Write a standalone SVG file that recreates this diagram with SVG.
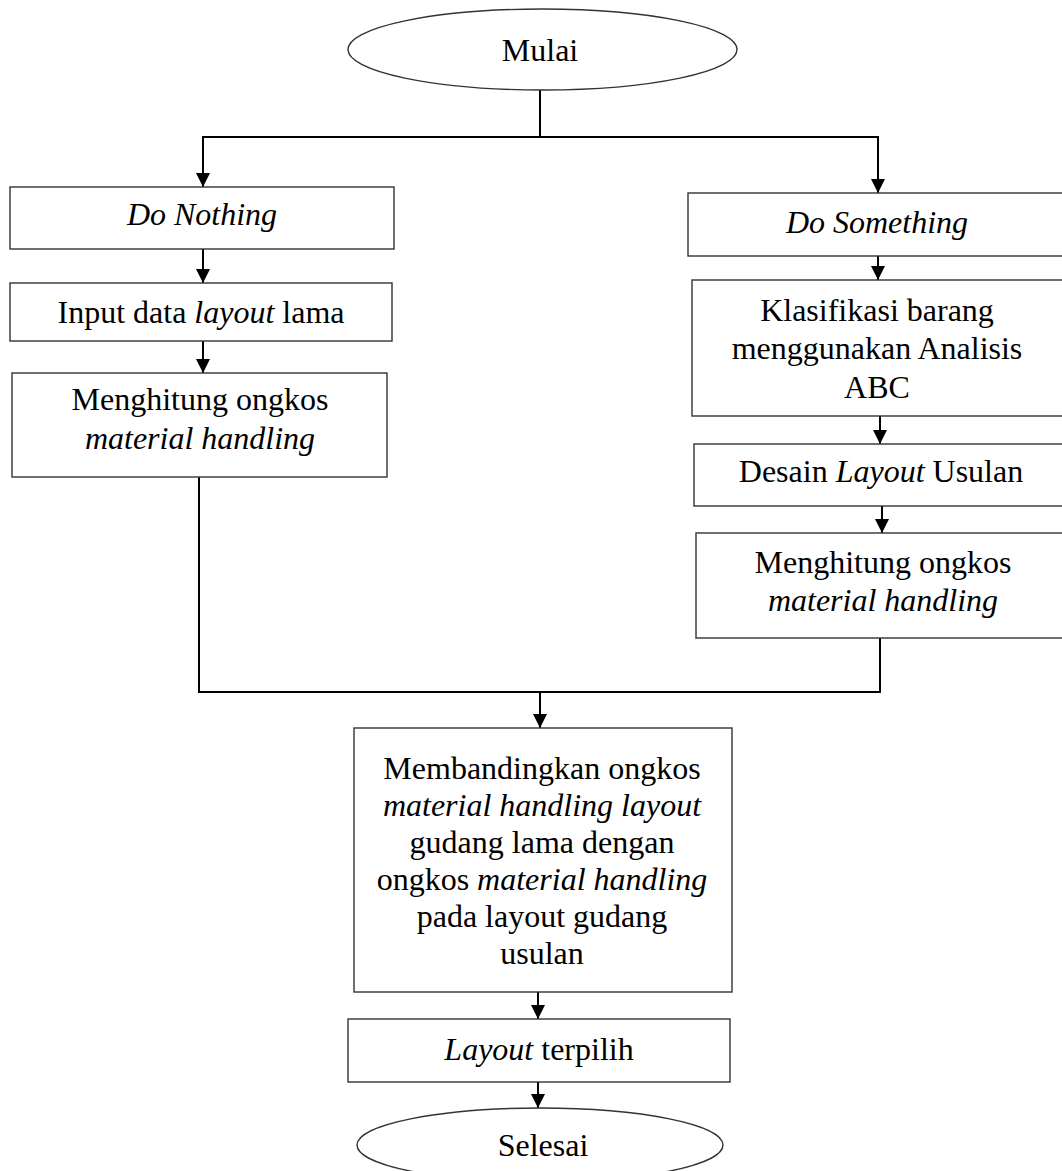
<svg xmlns="http://www.w3.org/2000/svg" width="1062" height="1171" viewBox="0 0 1062 1171">
<defs>
<style>
.box{fill:#fff;stroke:#333;stroke-width:1.4}
.t{font-family:"Liberation Serif","Times New Roman",serif;font-size:32px;fill:#000;text-anchor:middle}
.i{font-style:italic}
.c{fill:none;stroke:#000;stroke-width:2}
</style>
<marker id="ah" markerWidth="14" markerHeight="15" refX="14" refY="7" orient="auto" markerUnits="userSpaceOnUse" viewBox="0 0 14 14">
<path d="M0,0 L14,7 L0,14 Z" fill="#000"/>
</marker>
</defs>
<rect width="1062" height="1171" fill="#fff"/>

<g id="connectors">
<line class="c" x1="540" y1="90" x2="540" y2="137"/>
<line class="c" x1="202" y1="137" x2="879" y2="137"/>
<line class="c" x1="203" y1="137" x2="203" y2="187" marker-end="url(#ah)"/>
<line class="c" x1="878" y1="137" x2="878" y2="193" marker-end="url(#ah)"/>
<line class="c" x1="203" y1="249" x2="203" y2="283" marker-end="url(#ah)"/>
<line class="c" x1="203" y1="341" x2="203" y2="373" marker-end="url(#ah)"/>
<line class="c" x1="878" y1="256" x2="878" y2="280" marker-end="url(#ah)"/>
<line class="c" x1="880" y1="416" x2="880" y2="444" marker-end="url(#ah)"/>
<line class="c" x1="882" y1="506" x2="882" y2="533" marker-end="url(#ah)"/>
<polyline class="c" points="199,477 199,692 880,692 880,638"/>
<line class="c" x1="540" y1="692" x2="540" y2="728" marker-end="url(#ah)"/>
<line class="c" x1="538" y1="992" x2="538" y2="1019" marker-end="url(#ah)"/>
<line class="c" x1="538" y1="1082" x2="538" y2="1108" marker-end="url(#ah)"/>
</g>

<g id="mulai">
<ellipse class="box" cx="542.5" cy="49.5" rx="194.5" ry="40.5"/>
<text class="t" x="540" y="61">Mulai</text>
</g>

<g id="do-nothing">
<rect class="box" x="10" y="187" width="384" height="62"/>
<text class="t i" x="202" y="225">Do Nothing</text>
</g>

<g id="input-data">
<rect class="box" x="10" y="283" width="382" height="58"/>
<text class="t" x="201" y="323">Input data <tspan class="i">layout</tspan> lama</text>
</g>

<g id="menghitung-lama">
<rect class="box" x="12" y="373" width="375" height="104"/>
<text class="t" x="200" y="410">Menghitung ongkos</text>
<text class="t i" x="200" y="449">material handling</text>
</g>

<g id="do-something">
<rect class="box" x="688" y="193" width="390" height="63"/>
<text class="t i" x="877" y="233">Do Something</text>
</g>

<g id="klasifikasi">
<rect class="box" x="692" y="280" width="386" height="136"/>
<text class="t" x="877" y="321">Klasifikasi barang</text>
<text class="t" x="877" y="359">menggunakan Analisis</text>
<text class="t" x="877" y="398">ABC</text>
</g>

<g id="desain">
<rect class="box" x="694" y="444" width="384" height="62"/>
<text class="t" x="881" y="482">Desain <tspan class="i">Layout</tspan> Usulan</text>
</g>

<g id="menghitung-usulan">
<rect class="box" x="696" y="533" width="382" height="105"/>
<text class="t" x="883" y="573">Menghitung ongkos</text>
<text class="t i" x="883" y="611">material handling</text>
</g>

<g id="membandingkan">
<rect class="box" x="354" y="728" width="378" height="264"/>
<text class="t" x="542" y="779">Membandingkan ongkos</text>
<text class="t i" x="542" y="816">material handling layout</text>
<text class="t" x="542" y="853">gudang lama dengan</text>
<text class="t" x="542" y="890">ongkos <tspan class="i">material handling</tspan></text>
<text class="t" x="542" y="927">pada layout gudang</text>
<text class="t" x="542" y="964">usulan</text>
</g>

<g id="layout-terpilih">
<rect class="box" x="348" y="1019" width="382" height="63"/>
<text class="t" x="539" y="1060"><tspan class="i">Layout</tspan> terpilih</text>
</g>

<g id="selesai">
<ellipse class="box" cx="540" cy="1145" rx="183" ry="37"/>
<text class="t" x="543" y="1156">Selesai</text>
</g>
</svg>
